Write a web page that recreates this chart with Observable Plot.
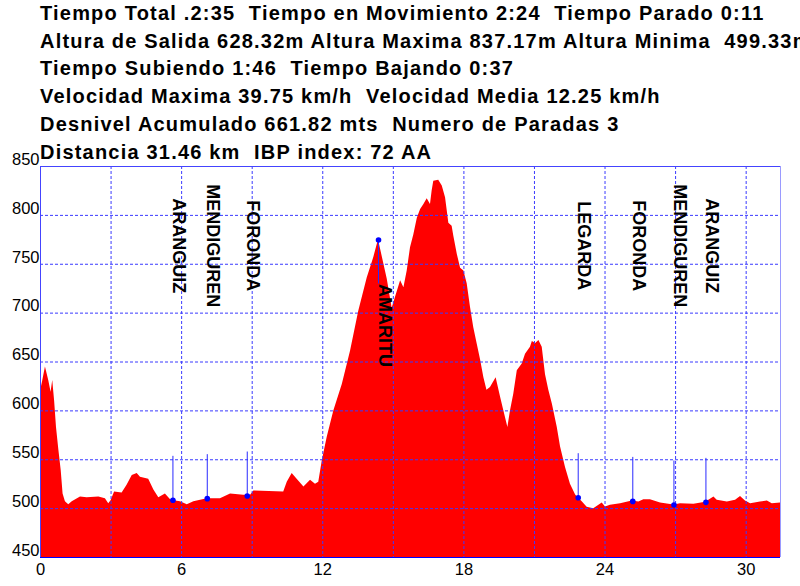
<!DOCTYPE html>
<html>
<head>
<meta charset="utf-8">
<script src="https://cdn.jsdelivr.net/npm/d3@7"></script>
<script src="https://cdn.jsdelivr.net/npm/@observablehq/plot@0.6"></script>
<style>
  html, body { margin: 0; padding: 0; background: #fff; overflow: hidden; }
  #wrap { position: relative; width: 800px; height: 586px; overflow: hidden; }
  #title {
    position: absolute; top: 0; left: 40px; z-index: 2;
    font: bold 20px "Liberation Sans", Arial, sans-serif;
    letter-spacing: 1.2px;
    line-height: 27.7px; white-space: pre; color: #000;
  }
  #chart { position: absolute; top: 0; left: 0; }
</style>
</head>
<body>
<div id="wrap"><div id="chart"></div><div id="title"></div></div>
<script>
// ---- data ----
const titleLines = [
  "Tiempo Total .2:35  Tiempo en Movimiento 2:24  Tiempo Parado 0:11",
  "Altura de Salida 628.32m Altura Maxima 837.17m Altura Minima  499.33m",
  "Tiempo Subiendo 1:46  Tiempo Bajando 0:37",
  "Velocidad Maxima 39.75 km/h  Velocidad Media 12.25 km/h",
  "Desnivel Acumulado 661.82 mts  Numero de Paradas 3",
  "Distancia 31.46 km  IBP index: 72 AA"
];

const distKm = [0.00,0.09,0.21,0.35,0.45,0.52,0.60,0.68,0.78,0.88,0.96,1.06,1.20,1.35,1.70,1.98,2.48,2.76,2.90,3.00,
  3.15,3.47,3.68,3.90,4.11,4.25,4.60,4.82,5.03,5.31,5.53,5.81,5.95,6.24,6.52,7.09,7.65,8.08,8.64,8.93,
  9.07,10.34,10.49,10.70,10.91,11.20,11.48,11.69,11.83,11.98,12.19,12.47,12.83,13.18,13.53,13.89,14.17,14.37,14.60,14.74,
  14.95,15.09,15.31,15.45,15.59,15.73,15.87,16.02,16.16,16.30,16.44,16.58,16.65,16.72,16.93,17.08,17.22,17.36,17.50,17.57,
  17.72,17.86,18.00,18.14,18.28,18.42,18.57,18.71,18.85,18.98,19.13,19.37,19.56,19.70,19.87,19.98,20.12,20.27,20.48,20.62,
  20.83,20.91,21.05,21.19,21.33,21.47,21.61,21.76,21.97,22.11,22.32,22.53,22.75,22.86,23.03,23.24,23.52,23.74,23.88,24.02,
  24.23,24.66,25.16,25.44,25.65,25.93,26.36,26.93,27.21,27.78,28.28,28.63,28.77,29.20,29.55,29.76,29.97,30.19,30.61,30.90,
  31.11,31.46];
const elevM = [620,630,645,631,619,631,610,583,560,539,515,507,504,507,512,511,512,510,505,508,
  517,516,524,534,536,532,530,519,511,515,509,507.5,507,504,507,510,510,515,513.6,513.6,
  518,517,527,536,530,522,529,525,527,549,573,600,627,661,702,736,757,775,750,735,
  705,716,733,726,743,767,780,797,806,811,817,811,825,835,836,830,818,792,789,779,
  760,746,743,730,706,685,668,652,634,621,624,634,614,600,583,600,617,641,648,658,
  665,671,669,672,665,637,621,607,583,563,542,525,514,511,507,501.5,500,503.4,505.7,501.6,
  503.4,505,507.8,506.8,509,509,505.7,503.7,505,504.4,506.4,512,508.5,506.8,508.5,512.5,507.8,505,506.8,507.8,
  505,505.7];

const wpNames = ["ARANGUIZ","MENDIGUREN","FORONDA","AMARITU","LEGARDA","FORONDA","MENDIGUREN","ARANGUIZ"];
const wpDist  = [5.63, 7.09, 8.79, 14.37, 22.86, 25.18, 26.93, 28.29];
const wpElev  = [508.5, 510.2, 512.9, 774.8, 511.2, 507.4, 503.7, 506.4];

const xTicks = [0, 6, 12, 18, 24, 30];
const yTicks = [450, 500, 550, 600, 650, 700, 750, 800, 850];
const xGrid = [3, 6, 9, 12, 15, 18, 21, 24, 27, 30];
const yGrid = [500, 550, 600, 650, 700, 750, 800];
const xMax = 31.46;

// ---- build ----
document.getElementById("title").textContent = titleLines.join("\n");

const profile = distKm.map((d, i) => ({d, v: elevM[i]}));
const wps = wpNames.map((name, i) => ({name, d: wpDist[i], v: wpElev[i], high: wpElev[i] > 700}));
const stemLen = 45;   // metres
const labelMid = 769; // metres

const grid = {stroke: "#3a3aff", strokeDasharray: "3,2", strokeWidth: 1};

const chart = Plot.plot({
  width: 800,
  height: 586,
  marginTop: 166,
  marginBottom: 29,
  marginLeft: 40,
  marginRight: 20,
  style: {fontFamily: "'Liberation Sans', Arial, sans-serif", background: "#fff", color: "#000", overflow: "visible"},
  x: {domain: [0, xMax], label: null},
  y: {domain: [450, 850], label: null},
  marks: [
    Plot.areaY(profile, {x: "d", y1: 450, y2: "v", fill: "#ff0000", curve: "linear"}),
    Plot.ruleX(xGrid, {...grid}),
    Plot.ruleY(yGrid, {...grid}),
    Plot.ruleX([0], {stroke: "#4444ff"}),
    Plot.ruleX([xMax], {stroke: "#9a9aff"}),
    Plot.ruleY([850], {stroke: "#4444ff"}),
    Plot.ruleY([450], {stroke: "#0000ff"}),
    Plot.ruleX(wps, {x: "d", y1: "v", y2: w => w.high ? w.v - stemLen : w.v + stemLen, stroke: "#2a2aff"}),
    Plot.dot(wps, {x: "d", y: "v", r: 2.8, fill: "#0000ff", stroke: "none"}),
    Plot.text(wps.filter(w => !w.high), {x: "d", y: () => labelMid, text: "name", rotate: 90,
      textAnchor: "middle", lineAnchor: "bottom", fontSize: 18, fontWeight: "bold", fill: "#000"}),
    Plot.text(wps.filter(w => w.high), {x: "d", y: w => w.v - stemLen, text: "name", rotate: 90,
      textAnchor: "start", lineAnchor: "bottom", fontSize: 18, fontWeight: "bold", fill: "#000"}),
    Plot.axisY(yTicks, {tickSize: 0, tickPadding: 1, fontSize: 16.5, dy: -7}),
    Plot.axisX(xTicks, {tickSize: 0, tickPadding: 6, fontSize: 16.5})
  ]
});
document.getElementById("chart").appendChild(chart);
</script>
</body>
</html>
